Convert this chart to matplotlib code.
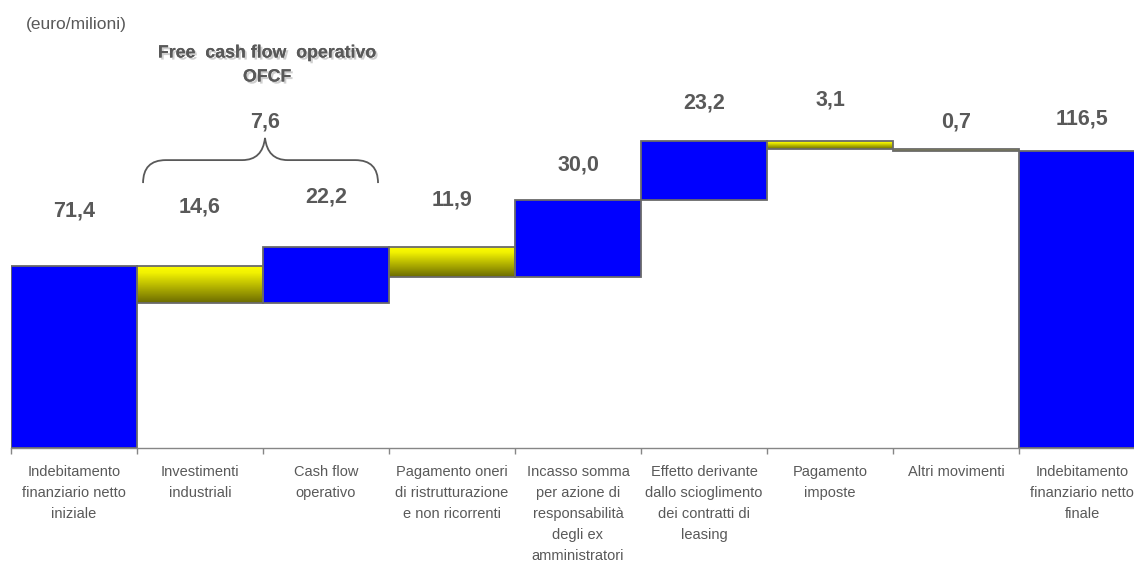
import numpy as np
import matplotlib.pyplot as plt
import matplotlib.patheffects as pe
from matplotlib.colors import LinearSegmentedColormap
from matplotlib.patches import Rectangle, PathPatch
from matplotlib.path import Path

plt.rcParams['font.family'] = ['Liberation Sans', 'DejaVu Sans']

# Data (euro/milioni)
categories = [
    "Indebitamento\nfinanziario netto\niniziale",
    "Investimenti\nindustriali",
    "Cash flow\noperativo",
    "Pagamento oneri\ndi ristrutturazione\ne non ricorrenti",
    "Incasso somma\nper azione di\nresponsabilità\ndegli ex\namministratori",
    "Effetto derivante\ndallo scioglimento\ndei contratti di\nleasing",
    "Pagamento\nimposte",
    "Altri movimenti",
    "Indebitamento\nfinanziario netto\nfinale",
]
changes = [71.4, -14.6, 22.2, -11.9, 30.0, 23.2, -3.1, -0.7, 116.5]
is_total = [True, False, False, False, False, False, False, False, True]
ofcf_value = 7.6

# label heights (layout, data units)
label_y = [92.9, 94.5, 98.4, 97.3, 111.0, 135.3, 136.5, 127.8, 129.0]

GRAY = '#595959'
BLUE = '#0000FF'
EDGE = '#6a6a6a'
yellow_cmap = LinearSegmentedColormap.from_list(
    'yel', [(0.0, '#6B6B00'), (0.8, '#F2F200'), (1.0, '#FFFF00')])

fig = plt.figure(figsize=(11.34, 5.63), dpi=100)
px = 2.55  # pixels per unit
ymax = 175
ax = fig.add_axes([11 / 1134, (563 - 448) / 563, 9 * 126 / 1134, ymax * px / 563])

# waterfall geometry
bottoms, tops = [], []
running = 0.0
for v, tot in zip(changes, is_total):
    if tot:
        bottoms.append(0.0)
        tops.append(v)
        running = v
    else:
        new = running + v
        bottoms.append(min(running, new))
        tops.append(max(running, new))
        running = new

grad = np.linspace(0, 1, 256).reshape(-1, 1)
for i, (b, t, v, tot) in enumerate(zip(bottoms, tops, changes, is_total)):
    x0 = i - 0.5
    if tot or v > 0:
        ax.bar(i, t - b, bottom=b, width=1.0, color=BLUE, edgecolor=EDGE,
               linewidth=1.3, zorder=2)
    else:
        rect = Rectangle((x0, b), 1.0, t - b, facecolor='none',
                         edgecolor=EDGE, linewidth=1.3, zorder=3)
        ax.add_patch(rect)
        im = ax.imshow(grad, cmap=yellow_cmap, origin='lower', aspect='auto',
                       extent=[x0, x0 + 1, b, t], zorder=2)
        im.set_clip_path(rect)
    lbl = f"{abs(v):.1f}".replace('.', ',')
    ax.text(i, label_y[i], lbl, ha='center', va='center', fontsize=15.5,
            fontweight='bold', color=GRAY)

ax.set_xlim(-0.5, 8.5)
ax.set_ylim(0, ymax)

# axis styling
for s in ['top', 'right', 'left']:
    ax.spines[s].set_visible(False)
ax.spines['bottom'].set_color('#868686')
ax.spines['bottom'].set_linewidth(1.0)
ax.set_yticks([])
ax.set_xticks(np.arange(-0.5, 9.0, 1.0))
ax.set_xticklabels([])
ax.tick_params(axis='x', which='major', length=4, width=1, color='#868686')
ax.set_xticks(range(len(categories)), minor=True)
ax.set_xticklabels(categories, minor=True, fontsize=10.5, color=GRAY,
                   linespacing=1.62)
ax.tick_params(axis='x', which='minor', length=0, pad=12.5)

# curly brace over investimenti + cash flow operativo
xl, xr, xm = 0.548, 2.413, 1.516
y_end, y_h, y_tip = 103.9, 112.9, 121.6
dx = 0.18
verts = [(xl, y_end), (xl, y_h), (xl + dx, y_h),
         (xm - dx, y_h), (xm - 0.02, y_h), (xm, y_tip),
         (xm + 0.02, y_h), (xm + dx, y_h),
         (xr - dx, y_h), (xr, y_h), (xr, y_end)]
codes = [Path.MOVETO, Path.CURVE3, Path.CURVE3,
         Path.LINETO, Path.CURVE3, Path.CURVE3,
         Path.CURVE3, Path.CURVE3,
         Path.LINETO, Path.CURVE3, Path.CURVE3]
ax.add_patch(PathPatch(Path(verts, codes), facecolor='none', edgecolor=GRAY,
                       linewidth=1.3, zorder=4))
ax.text(xm, 127.8, f"{ofcf_value:.1f}".replace('.', ','), ha='center',
        va='center', fontsize=15.5, fontweight='bold', color=GRAY)

shadow = [pe.withSimplePatchShadow(offset=(1.5, -1.5), shadow_rgbFace='#b0b0b0',
                                   alpha=0.6), pe.Normal()]
fig.text(267 / 1134, 1 - 53 / 563, "Free  cash flow  operativo", ha='center',
         va='center', fontsize=12.8, fontweight='bold', color=GRAY,
         path_effects=shadow)
fig.text(267 / 1134, 1 - 77 / 563, "OFCF", ha='center', va='center',
         fontsize=12.8, fontweight='bold', color=GRAY, path_effects=shadow)
fig.text(26 / 1134, 1 - 25 / 563, "(euro/milioni)", ha='left', va='center',
         fontsize=12.5, color=GRAY)

fig.savefig('out.png', dpi=100)
